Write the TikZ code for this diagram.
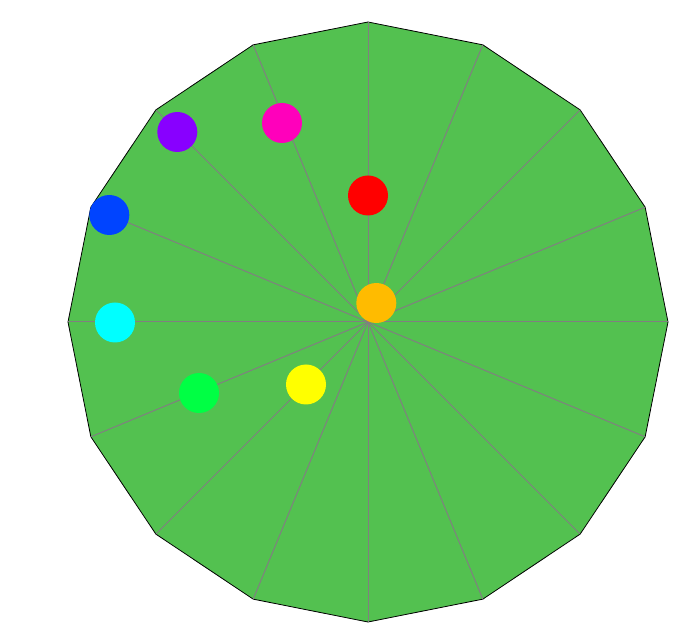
\documentclass[tikz,border=0pt]{standalone}
\usetikzlibrary{calc}
\definecolor{field}{HTML}{53C150}
\definecolor{spoke}{HTML}{808080}
\definecolor{dred}{HTML}{FF0000}
\definecolor{dorange}{HTML}{FFBB00}
\definecolor{dmagenta}{HTML}{FF00BB}
\definecolor{dpurple}{HTML}{8800FF}
\definecolor{dblue}{HTML}{0044FF}
\definecolor{dcyan}{HTML}{00FFFF}
\definecolor{dgreen}{HTML}{00FF44}
\definecolor{dyellow}{HTML}{FFFF00}
\tikzset{
  dot/.style={circle, inner sep=0pt, minimum size=40pt, draw=none},
  spokeline/.style={draw=spoke, line width=1pt},
}
\begin{document}
\begin{tikzpicture}[x=1pt,y=1pt]
\useasboundingbox (0,0) rectangle (699,643);
\coordinate (c) at (368,321);
\fill[field, draw=black, line width=0.8pt]
  (c) ++(90:300)
  \foreach \i in {1,...,15} { -- ($(c)+(90+\i*22.5:300)$) } -- cycle;
\foreach \i in {0,...,15} {
  \coordinate (v\i) at ($(c)+(90+\i*22.5:300)$);
  \draw[spokeline] (c) -- (v\i);
}
\node[dot, fill=dred] (red) at (368,447.5) {};
\node[dot, fill=dorange] (orange) at (376.3,340) {};
\node[dot, fill=dmagenta] (magenta) at (282,520) {};
\node[dot, fill=dpurple] (purple) at (177.3,511) {};
\node[dot, fill=dblue] (blue) at (109.3,428) {};
\node[dot, fill=dcyan] (cyan) at (115,320.5) {};
\node[dot, fill=dgreen] (green) at (199,250) {};
\node[dot, fill=dyellow] (yellow) at (306,258.5) {};
\end{tikzpicture}
\end{document}
